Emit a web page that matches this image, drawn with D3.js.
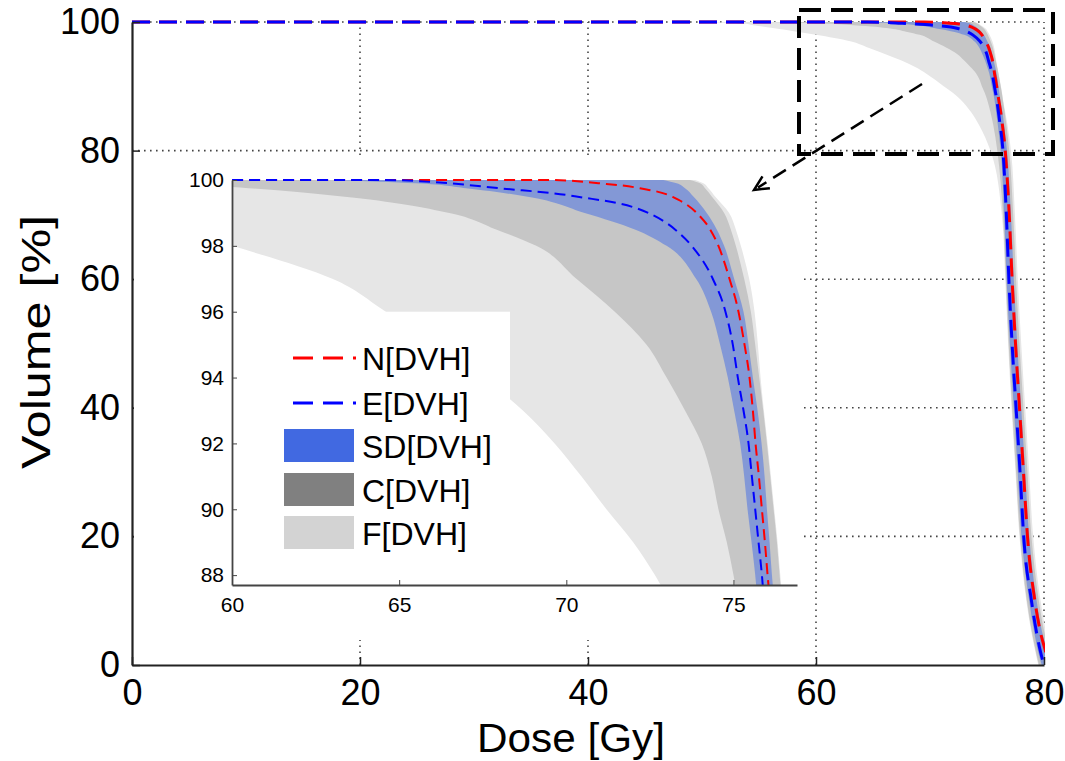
<!DOCTYPE html>
<html>
<head>
<meta charset="utf-8">
<script src="https://cdn.jsdelivr.net/npm/d3@7"></script>
<style>
  html, body { margin: 0; padding: 0; background: #fff; }
  svg text { font-family: "Liberation Sans", Arial, sans-serif; fill: #000; }
</style>
</head>
<body>
<svg id="chart" width="1065" height="761"></svg>
<script>
// ---------------- data ----------------
// shared volume levels [%]; each series gives the dose [Gy] at which it crosses that level
const volumeLevels = [100, 99.9, 99.75, 99.5, 99, 98.5, 98, 97, 96, 95, 94, 93, 92, 91, 90, 89, 88, 86, 84, 80, 70, 60, 50, 40, 30, 20, 10, 5, 2, 0];
const nDose  = [69.5, 71.0, 72.2, 73.15, 73.9, 74.3, 74.55, 74.88, 75.15, 75.33, 75.48, 75.58, 75.66, 75.76, 75.85, 75.94, 76.02, 76.2, 76.35, 76.6, 76.95, 77.2, 77.5, 77.85, 78.2, 78.55, 79.2, 79.7, 80.15, 80.4];
const eDose  = [64.5, 66.5, 68.0, 70.3, 72.45, 73.25, 73.75, 74.38, 74.76, 74.98, 75.13, 75.3, 75.45, 75.55, 75.65, 75.75, 75.85, 76.0, 76.15, 76.4, 76.7, 76.92, 77.2, 77.55, 77.9, 78.22, 78.9, 79.35, 79.7, 80.0];
const sdLow  = [63.0, 65.5, 67.0, 68.8, 70.55, 72.05, 73.0, 73.88, 74.33, 74.6, 74.83, 75.02, 75.2, 75.32, 75.42, 75.54, 75.65, 75.8, 75.95, 76.2, 76.5, 76.72, 77.0, 77.35, 77.7, 78.02, 78.7, 79.15, 79.5, 79.8];
const sdHigh = [72.9, 73.3, 73.55, 73.8, 74.2, 74.5, 74.72, 75.02, 75.3, 75.45, 75.58, 75.72, 75.84, 75.93, 76.0, 76.08, 76.15, 76.35, 76.5, 76.75, 77.1, 77.35, 77.65, 78.0, 78.35, 78.7, 79.35, 79.85, 80.3, 80.55];
const cLow   = [55, 58, 60.5, 63.3, 66.5, 67.9, 69.1, 70.3, 71.45, 72.4, 73.0, 73.55, 74.05, 74.35, 74.55, 74.8, 75.0, 75.3, 75.55, 75.9, 76.4, 76.65, 76.9, 77.2, 77.55, 77.9, 78.5, 78.95, 79.3, 79.55];
const cHigh  = [73.7, 74.0, 74.15, 74.35, 74.72, 74.92, 75.07, 75.32, 75.52, 75.65, 75.77, 75.89, 76.0, 76.1, 76.2, 76.3, 76.38, 76.55, 76.7, 76.95, 77.3, 77.55, 77.85, 78.2, 78.55, 78.9, 79.55, 80.05, 80.5, 80.75];
const fLow   = [50, 52, 53.5, 54.5, 56.5, 58.3, 60, 63.0, 64.6, 66.1, 67.5, 68.7, 69.65, 70.45, 71.2, 72.0, 72.65, 73.6, 74.3, 75.3, 76.3, 76.6, 76.85, 77.15, 77.5, 77.85, 78.45, 78.9, 79.25, 79.5];
const fHigh  = [73.85, 74.1, 74.25, 74.45, 74.87, 75.07, 75.22, 75.47, 75.63, 75.73, 75.81, 75.91, 76.02, 76.12, 76.22, 76.32, 76.4, 76.6, 76.8, 77.1, 77.45, 77.7, 78.0, 78.35, 78.7, 79.05, 79.7, 80.2, 80.65, 80.9];

const mainDoseTicks = [0, 20, 40, 60, 80];
const mainVolTicks = [0, 20, 40, 60, 80, 100];
const insetDoseTicks = [60, 65, 70, 75];
const insetVolTicks = [88, 90, 92, 94, 96, 98, 100];
const legendLabels = ["N[DVH]", "E[DVH]", "SD[DVH]", "C[DVH]", "F[DVH]"];

// ---------------- build ----------------
const svg = d3.select("#chart");
const FONT = '"Liberation Sans", Arial, sans-serif';

const colF = "#e6e6e6", colC = "#c6c6c6", colSD = "#8398d6";
const bands = [
  {lo: fLow, hi: fHigh, fill: colF},
  {lo: cLow, hi: cHigh, fill: colC},
  {lo: sdLow, hi: sdHigh, fill: colSD}
];
function bandData(b) { return volumeLevels.map((v, i) => ({v, lo: b.lo[i], hi: b.hi[i]})); }
function lineData(doses) { return [{d: 0, v: 100}].concat(volumeLevels.map((v, i) => ({d: doses[i], v}))); }

function drawCurves(g, x, y, lineW, dash) {
  bands.forEach(b => {
    const area = d3.area().curve(d3.curveMonotoneY)
      .y(d => y(d.v)).x0(d => x(d.lo)).x1(d => x(d.hi));
    g.append("path").attr("d", area(bandData(b))).attr("fill", b.fill).attr("stroke", "none");
  });
  const line = d3.line().curve(d3.curveMonotoneX).x(d => x(d.d)).y(d => y(d.v));
  g.append("path").attr("d", line(lineData(nDose))).attr("fill", "none")
    .attr("stroke", "#ff0000").attr("stroke-width", lineW).attr("stroke-dasharray", dash);
  g.append("path").attr("d", line(lineData(eDose))).attr("fill", "none")
    .attr("stroke", "#0000ff").attr("stroke-width", lineW).attr("stroke-dasharray", dash);
}

// ---- main axes ----
const x = d3.scaleLinear().domain([0, 80]).range([132, 1044]);
const y = d3.scaleLinear().domain([0, 100]).range([665, 22]);

// grid
const grid = svg.append("g").attr("stroke", "#444").attr("stroke-width", 1.6).attr("stroke-dasharray", "1.6,4.4");
mainDoseTicks.filter(t => t > 0).forEach(t => {
  grid.append("line").attr("x1", x(t)).attr("x2", x(t)).attr("y1", y(0)).attr("y2", y(100));
});
mainVolTicks.filter(t => t > 0).forEach(t => {
  grid.append("line").attr("x1", x(0)).attr("x2", x(80)).attr("y1", y(t)).attr("y2", y(t));
});

svg.append("defs").append("clipPath").attr("id", "mainClip")
  .append("rect").attr("x", x(0)).attr("y", y(100) - 4).attr("width", x(80) - x(0) + 1).attr("height", y(0) - y(100) + 4);
const mainPlot = svg.append("g").attr("clip-path", "url(#mainClip)");
drawCurves(mainPlot, x, y, 3, "18,9");

// axes
const xAxisG = svg.append("g").attr("transform", `translate(0,${y(0)})`)
  .call(d3.axisBottom(x).tickValues(mainDoseTicks).tickSizeInner(-8).tickSizeOuter(0).tickPadding(14));
const yAxisG = svg.append("g").attr("transform", `translate(${x(0)},0)`)
  .call(d3.axisLeft(y).tickValues(mainVolTicks).tickSizeInner(-8).tickSizeOuter(0).tickPadding(12));
[xAxisG, yAxisG].forEach(g => {
  g.select(".domain").attr("stroke", "#222").attr("stroke-width", 2.2);
  g.selectAll(".tick line").attr("stroke", "#222").attr("stroke-width", 1.5);
  g.selectAll(".tick text").attr("font-family", FONT).attr("font-size", 36).attr("fill", "#000");
});
xAxisG.selectAll(".tick text").attr("dy", "0.71em");

svg.append("text").attr("x", 571).attr("y", 752)
  .attr("text-anchor", "middle").attr("font-size", 40)
  .attr("textLength", 188).attr("lengthAdjust", "spacingAndGlyphs").text("Dose [Gy]");
svg.append("text").attr("transform", `translate(50,342) rotate(-90)`)
  .attr("text-anchor", "middle").attr("font-size", 40)
  .attr("textLength", 254).attr("lengthAdjust", "spacingAndGlyphs").text("Volume [%]");

// ---- inset ----
svg.append("rect").attr("x", 134).attr("y", 158).attr("width", 668).attr("height", 482).attr("fill", "#fff");

const ix = d3.scaleLinear().domain([60, 76.9]).range([232, 797]);
const iy = d3.scaleLinear().domain([87.7, 100]).range([585, 180]);
svg.select("defs").append("clipPath").attr("id", "insetClip")
  .append("rect").attr("x", ix(60)).attr("y", iy(100) - 3).attr("width", ix(76.9) - ix(60)).attr("height", iy(87.7) - iy(100) + 3);
const insetPlot = svg.append("g").attr("clip-path", "url(#insetClip)");
drawCurves(insetPlot, ix, iy, 2, "11,6");

// legend (white background box)
const lg = svg.append("g");
lg.append("rect").attr("x", 272).attr("y", iy(96)).attr("width", 238).attr("height", 250).attr("fill", "#fff");
const legY = [358, 403, 446, 490, 533];
const lineColors = ["#ff0000", "#0000ff"];
const swatchColors = ["#4169e1", "#808080", "#d3d3d3"];
legendLabels.forEach((lab, i) => {
  if (i < 2) {
    lg.append("line").attr("x1", 293).attr("x2", 356).attr("y1", legY[i]).attr("y2", legY[i])
      .attr("stroke", lineColors[i]).attr("stroke-width", 3).attr("stroke-dasharray", "20,10");
  } else {
    lg.append("rect").attr("x", 284).attr("y", legY[i] - 17).attr("width", 70).attr("height", 33)
      .attr("fill", swatchColors[i - 2]);
  }
  lg.append("text").attr("x", 362).attr("y", legY[i]).attr("dy", "0.36em")
    .attr("font-size", 32).text(lab);
});

const ixAxis = svg.append("g").attr("transform", `translate(0,${iy(87.7)})`)
  .call(d3.axisBottom(ix).tickValues(insetDoseTicks).tickSizeInner(-5).tickSizeOuter(0).tickPadding(12));
const iyAxis = svg.append("g").attr("transform", `translate(${ix(60)},0)`)
  .call(d3.axisLeft(iy).tickValues(insetVolTicks).tickSizeInner(-5).tickSizeOuter(0).tickPadding(8));
[ixAxis, iyAxis].forEach(g => {
  g.select(".domain").attr("stroke", "#444").attr("stroke-width", 1.8);
  g.selectAll(".tick line").attr("stroke", "#444");
  g.selectAll(".tick text").attr("font-family", FONT).attr("font-size", 21).attr("fill", "#000");
});

// ---- zoom box & arrow ----
svg.append("rect").attr("x", 799).attr("y", 10).attr("width", 254).attr("height", 144)
  .attr("fill", "none").attr("stroke", "#000").attr("stroke-width", 4).attr("stroke-dasharray", "22,10");
const ax0 = 922, ay0 = 84, ax1 = 754, ay1 = 190;
svg.append("line").attr("x1", ax0).attr("y1", ay0).attr("x2", ax1 + 4).attr("y2", ay1 - 2.5)
  .attr("stroke", "#000").attr("stroke-width", 2.5).attr("stroke-dasharray", "15,8");
const ang = Math.atan2(ay0 - ay1, ax0 - ax1);
const hl = 16, spread = 0.45;
svg.append("path")
  .attr("d", `M${ax1 + hl * Math.cos(ang + spread)},${ay1 + hl * Math.sin(ang + spread)} L${ax1},${ay1} L${ax1 + hl * Math.cos(ang - spread)},${ay1 + hl * Math.sin(ang - spread)}`)
  .attr("fill", "none").attr("stroke", "#000").attr("stroke-width", 2.5);
</script>
</body>
</html>
